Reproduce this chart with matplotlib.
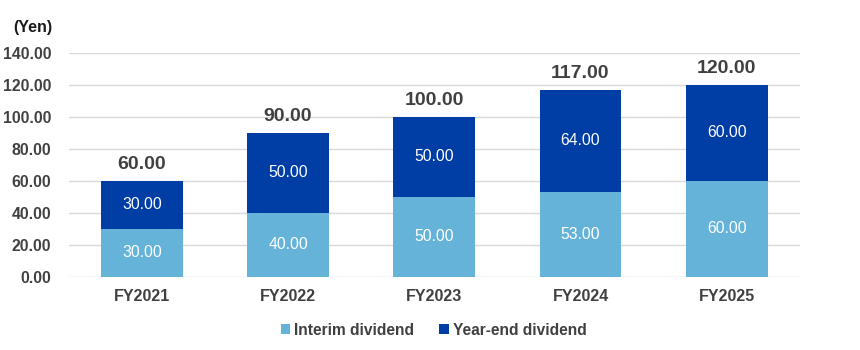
import numpy as np
import matplotlib.pyplot as plt

plt.rcParams['font.family'] = ['Liberation Sans', 'DejaVu Sans']

years = ['FY2021', 'FY2022', 'FY2023', 'FY2024', 'FY2025']
interim = [30.00, 40.00, 50.00, 53.00, 60.00]
year_end = [30.00, 50.00, 50.00, 64.00, 60.00]
totals = [60.00, 90.00, 100.00, 117.00, 120.00]

c_interim = '#65B3D9'
c_yearend = '#003DA5'
txt = '#404040'

fig = plt.figure(figsize=(8.6, 3.5), dpi=100)
ax = fig.add_axes([0.080, 0.2086, 0.850, 0.640])

x = np.arange(len(years))
w = 0.56
b1 = ax.bar(x, interim, w, color=c_interim, label='Interim dividend', zorder=3)
b2 = ax.bar(x, year_end, w, bottom=interim, color=c_yearend, label='Year-end dividend', zorder=3)

# segment values inside the bars, totals on top
for i in range(len(years)):
    ax.text(x[i], interim[i] / 2, '%.2f' % interim[i], ha='center', va='center',
            color='white', fontsize=11.3, zorder=4)
    ax.text(x[i], interim[i] + year_end[i] / 2, '%.2f' % year_end[i], ha='center',
            va='center', color='white', fontsize=11.3, zorder=4)
    ax.annotate('%.2f' % totals[i], (x[i], totals[i]), xytext=(0, 12), textcoords='offset points',
                ha='center', va='center', fontsize=14, fontweight='bold', color=txt)

ax.set_xlim(-0.5, len(years) - 0.5)
ax.set_ylim(0, 140)
ax.set_yticks(np.arange(0, 141, 20))
ax.set_yticklabels(['%.2f' % v for v in np.arange(0, 141, 20)])
ax.set_xticks(x)
ax.set_xticklabels(years)
ax.tick_params(axis='y', length=0, pad=12.5, labelsize=11.4, labelcolor=txt)
ax.tick_params(axis='x', length=0, pad=9, labelsize=11.5, labelcolor=txt)
for lab in ax.get_xticklabels() + ax.get_yticklabels():
    lab.set_fontweight('bold')

ax.grid(axis='y', color='#d9d9d9', linewidth=1, zorder=0)
for s in ax.spines.values():
    s.set_visible(False)

fig.text(0.015, 0.922, '(Yen)', fontsize=11.5, fontweight='bold', color='#1a1a1a', va='center')

leg = fig.legend(handles=[b1, b2], loc='center', bbox_to_anchor=(0.504, 0.057), ncol=2,
                 frameon=False, handlelength=0.62, handleheight=0.62, handletextpad=0.25,
                 columnspacing=1.6, prop={'size': 11.2, 'weight': 'bold'})
for t in leg.get_texts():
    t.set_color(txt)

plt.savefig('out.png', dpi=100)
